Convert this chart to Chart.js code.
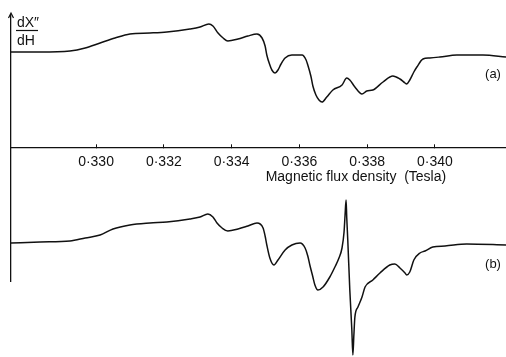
<!DOCTYPE html>
<html>
<head>
<meta charset="utf-8">
<script src="https://cdn.jsdelivr.net/npm/chart.js@4"></script>
<style>
html, body { margin: 0; padding: 0; background: #fff; }
</style>
</head>
<body>
<canvas id="spectre" width="506" height="357"></canvas>
<script>
// Trace (a) : champ magnétique (Tesla) et signal dX''/dH (unités arbitraires)
const champA = [0.32749, 0.32835, 0.32923, 0.32968, 0.33012, 0.33056, 0.33100, 0.33159, 0.33209, 0.33277,
    0.33307, 0.33333, 0.33345, 0.33360, 0.33375, 0.33389, 0.33419, 0.33448, 0.33475, 0.33490,
    0.33499, 0.33504, 0.33513, 0.33519, 0.33528, 0.33537, 0.33546, 0.33558, 0.33578, 0.33608,
    0.33620, 0.33625, 0.33634, 0.33640, 0.33649, 0.33658, 0.33667, 0.33681, 0.33699, 0.33726,
    0.33740, 0.33749, 0.33764, 0.33785, 0.33799, 0.33817, 0.33847, 0.33876, 0.33897, 0.33912,
    0.33917, 0.33926, 0.33938, 0.33947, 0.33965, 0.33985, 0.34015, 0.34065, 0.34142, 0.34210];
const signalA = [96, 96, 97, 100, 105, 110, 114, 115, 116, 119,
    121, 124, 122, 115, 110, 107, 109, 112, 114, 110,
    102, 93, 83, 78, 75, 78, 84, 90, 93, 93,
    88, 83, 72, 62, 53, 48, 46, 51, 58, 63,
    70, 68, 61, 54, 57, 58, 66, 72, 69, 65,
    64, 68, 76, 81, 89, 90, 91, 93, 93, 91];

// Trace (b)
const champB = [0.32749, 0.32835, 0.32923, 0.32968, 0.33012, 0.33050, 0.33100, 0.33159, 0.33209, 0.33277,
    0.33307, 0.33330, 0.33345, 0.33357, 0.33372, 0.33389, 0.33419, 0.33448, 0.33475, 0.33493,
    0.33499, 0.33504, 0.33513, 0.33525, 0.33537, 0.33558, 0.33578, 0.33602, 0.33617, 0.33625,
    0.33631, 0.33640, 0.33646, 0.33655, 0.33670, 0.33690, 0.33705, 0.33717, 0.33726, 0.33732,
    0.33735, 0.33738, 0.33740, 0.33743, 0.33749, 0.33755, 0.33758, 0.33761, 0.33764, 0.33773,
    0.33785, 0.33794, 0.33817, 0.33838, 0.33867, 0.33882, 0.33897, 0.33912, 0.33917, 0.33926,
    0.33938, 0.33956, 0.33971, 0.33994, 0.34030, 0.34094, 0.34210];
const signalB = [-95, -94, -93, -90, -87, -81, -77, -75, -74, -71,
    -69, -66, -69, -75, -80, -83, -81, -78, -75, -80,
    -88, -97, -110, -117, -112, -102, -97, -95, -100, -108,
    -117, -129, -137, -142, -139, -129, -119, -110, -100, -84,
    -67, -52, -70, -92, -142, -182, -207, -187, -169, -159,
    -149, -139, -132, -125, -117, -116, -120, -125, -127, -124,
    -112, -105, -103, -99, -98, -96, -97];

// Graduations de l'axe du champ
const graduations = [0.330, 0.332, 0.334, 0.336, 0.338, 0.340];
const etiquettes = ['0·330', '0·332', '0·334', '0·336', '0·338', '0·340'];
const titreAxe = 'Magnetic flux density  (Tesla)';
const nomsTraces = ['(a)', '(b)'];

const NOIR = '#111';
const POLICE = '"Liberation Sans", Arial, sans-serif';

function versPoints(xs, ys) {
    return xs.map((x, i) => ({ x: x, y: ys[i] }));
}

// Décor : flèche de l'axe vertical, dX''/dH, titre de l'axe, noms des traces
const decor = {
    id: 'decor',
    afterDraw(chart) {
        const ctx = chart.ctx;
        const zone = chart.chartArea;
        const sx = chart.scales.x;
        const sy = chart.scales.y;
        ctx.save();
        ctx.strokeStyle = NOIR;
        ctx.fillStyle = NOIR;
        ctx.lineWidth = 1.2;

        // pointe de flèche en haut de l'axe vertical
        ctx.beginPath();
        ctx.moveTo(zone.left - 2.5, zone.top + 3);
        ctx.lineTo(zone.left, zone.top - 2);
        ctx.lineTo(zone.left + 2.5, zone.top + 3);
        ctx.stroke();

        // dX''/dH en fraction
        ctx.font = '14px ' + POLICE;
        ctx.textAlign = 'left';
        ctx.textBaseline = 'middle';
        ctx.fillText('dX″', zone.left + 6, zone.top + 8);
        ctx.fillText('dH', zone.left + 6, zone.top + 26);
        ctx.beginPath();
        ctx.moveTo(zone.left + 5, zone.top + 15.5);
        ctx.lineTo(zone.left + 27, zone.top + 15.5);
        ctx.stroke();

        // titre de l'axe du champ
        ctx.textAlign = 'center';
        ctx.fillText(titreAxe, sx.getPixelForValue(0.33767), sy.getPixelForValue(0) + 29);

        // noms des traces
        ctx.font = '13px ' + POLICE;
        ctx.fillText(nomsTraces[0], zone.right - 13, sy.getPixelForValue(74));
        ctx.fillText(nomsTraces[1], zone.right - 13, sy.getPixelForValue(-116));
        ctx.restore();
    }
};

new Chart(document.getElementById('spectre'), {
    type: 'line',
    data: {
        datasets: [
            { label: nomsTraces[0], data: versPoints(champA, signalA) },
            { label: nomsTraces[1], data: versPoints(champB, signalB) }
        ]
    },
    options: {
        responsive: false,
        animation: false,
        layout: { padding: { left: 11, right: 0, top: 15, bottom: 76 } },
        datasets: { line: { clip: false } },
        elements: {
            point: { radius: 0 },
            line: { borderColor: NOIR, borderWidth: 1.5, cubicInterpolationMode: 'monotone', fill: false }
        },
        plugins: { legend: { display: false }, tooltip: { enabled: false } },
        scales: {
            x: {
                type: 'linear',
                min: 0.32749,
                max: 0.3421,
                position: { y: 0 },
                afterBuildTicks: (axe) => { axe.ticks = graduations.map(v => ({ value: v })); },
                ticks: {
                    callback: (v, i) => etiquettes[i],
                    color: NOIR,
                    font: { family: POLICE, size: 14 },
                    padding: 10,
                    maxRotation: 0,
                    autoSkip: false
                },
                grid: { drawOnChartArea: false, drawTicks: true, tickLength: -4, color: NOIR, lineWidth: 1 },
                border: { display: true, color: NOIR, width: 1.3 }
            },
            y: {
                type: 'linear',
                min: -133,
                max: 133,
                position: 'left',
                ticks: { display: false },
                grid: { drawOnChartArea: false, drawTicks: false },
                border: { display: true, color: NOIR, width: 1.3 }
            }
        }
    },
    plugins: [decor]
});
</script>
</body>
</html>
